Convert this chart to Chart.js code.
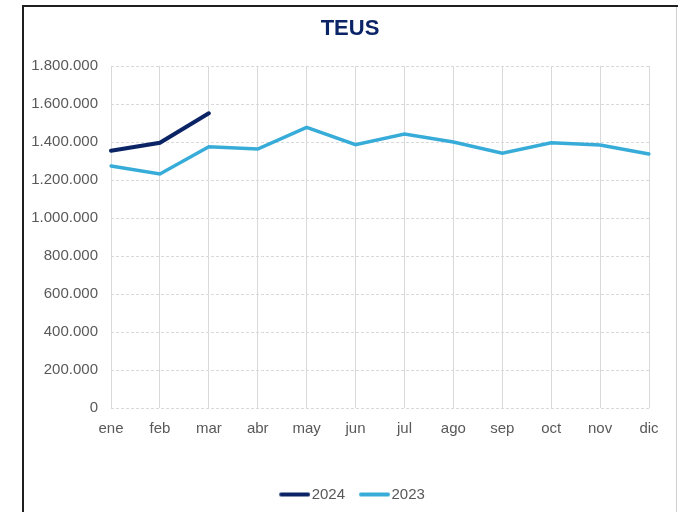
<!DOCTYPE html>
<html>
<head>
<meta charset="utf-8">
<script src="https://cdn.jsdelivr.net/npm/chart.js@4/dist/chart.umd.min.js"></script>
<style>
  html, body { margin: 0; padding: 0; background: #fff; }
  #wrap { position: relative; width: 678px; height: 512px; overflow: hidden; background: #fff; }
  #wrap canvas { position: absolute; left: 0; top: 0; }
  .frame { position: absolute; pointer-events: none; }
  .frame-top { left: 22px; top: 5px; width: 656px; height: 2px; background: #1f1f1f; }
  .frame-left { left: 22px; top: 5px; width: 2px; height: 507px; background: #1f1f1f; }
  .frame-right { left: 676px; top: 7px; width: 1px; height: 505px; background: #cfcfcf; }
</style>
</head>
<body>
<div id="wrap">
  <canvas id="chart" width="678" height="512"></canvas>
  <div class="frame frame-top"></div>
  <div class="frame frame-left"></div>
  <div class="frame frame-right"></div>
</div>
<script>
// Monthly container traffic (TEUs)
const months = ['ene', 'feb', 'mar', 'abr', 'may', 'jun', 'jul', 'ago', 'sep', 'oct', 'nov', 'dic'];
const teus2024 = [1354000, 1396000, 1551000];
const teus2023 = [1274000, 1232000, 1375000, 1363000, 1477000, 1386000, 1442000, 1400000, 1341000, 1396000, 1384000, 1337000];
const seriesNames = ['2024', '2023'];
const chartTitle = 'TEUS';

const NAVY = '#0b2466';
const SKY = '#38acd9';
const TEXT_GREY = '#595959';
const GRID_GREY = '#d9d9d9';
const FONT = "Arial, 'Liberation Sans', sans-serif";

// Thousands separator with dots
const fmt = v => String(v).replace(/\B(?=(\d{3})+(?!\d))/g, '.');

// Short rounded stroke used as the legend marker
function legendStroke(color) {
  const c = document.createElement('canvas');
  c.width = 41; c.height = 8;
  const g = c.getContext('2d');
  g.strokeStyle = color;
  g.lineWidth = 4;
  g.lineCap = 'round';
  g.beginPath();
  g.moveTo(12, 4);
  g.lineTo(39, 4);
  g.stroke();
  return c;
}

new Chart(document.getElementById('chart'), {
  type: 'line',
  data: {
    labels: months,
    datasets: [
      {
        label: seriesNames[0],
        data: teus2024,
        borderColor: NAVY,
        backgroundColor: NAVY,
        borderWidth: 4,
        borderCapStyle: 'round',
        pointRadius: 0,
        pointStyle: legendStroke(NAVY),
        tension: 0
      },
      {
        label: seriesNames[1],
        data: teus2023,
        borderColor: SKY,
        backgroundColor: SKY,
        borderWidth: 3.5,
        borderCapStyle: 'round',
        pointRadius: 0,
        pointStyle: legendStroke(SKY),
        tension: 0
      }
    ]
  },
  options: {
    responsive: false,
    animation: false,
    devicePixelRatio: 1,
    layout: { padding: { left: 30, right: 8, top: 0, bottom: 0 } },
    plugins: {
      title: {
        display: true,
        text: chartTitle,
        color: NAVY,
        font: { family: FONT, size: 22, weight: 'bold' },
        padding: { top: 16, bottom: 23.6 }
      },
      legend: {
        position: 'bottom',
        labels: {
          usePointStyle: true,
          pointStyleWidth: 29,
          color: TEXT_GREY,
          font: { family: FONT, size: 15 },
          padding: 10
        }
      },
      tooltip: { enabled: false }
    },
    scales: {
      x: {
        grid: { color: GRID_GREY, lineWidth: 1, drawTicks: false },
        border: { display: false },
        ticks: {
          color: TEXT_GREY,
          font: { family: FONT, size: 15 },
          padding: 12,
          maxRotation: 0,
          autoSkip: false
        },
        afterFit(scale) { scale.height = 69; }
      },
      y: {
        min: 0,
        max: 1800000,
        grid: { color: GRID_GREY, lineWidth: 1, drawTicks: false },
        border: { display: false, dash: [3, 2] },
        ticks: {
          stepSize: 200000,
          color: TEXT_GREY,
          font: { family: FONT, size: 15 },
          padding: 13,
          callback: v => fmt(v)
        },
        afterFit(scale) { scale.width = 81; }
      },
      // empty right-hand spacer keeping the plot clear of the right edge
      yRight: {
        position: 'right',
        display: true,
        grid: { display: false, drawTicks: false },
        border: { display: false },
        ticks: { display: false },
        afterFit(scale) { scale.width = 21; }
      }
    }
  }
});
</script>
</body>
</html>
